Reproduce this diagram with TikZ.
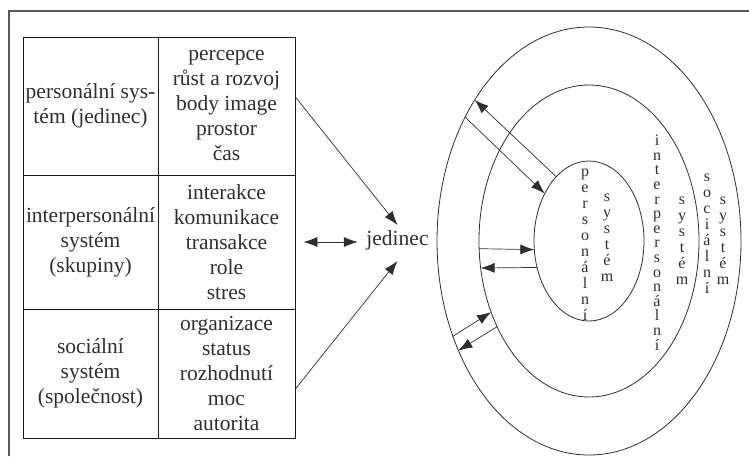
\documentclass[tikz,border=0pt]{standalone}
\usepackage{fontspec}
\setmainfont{Liberation Serif}
\usetikzlibrary{arrows.meta,shapes.geometric}
\definecolor{ink}{gray}{0.18}
\definecolor{framec}{gray}{0.35}
\begin{document}
\begin{tikzpicture}[x=1pt,y=-1pt,
  every node/.style={text=ink},
  cell/.style={draw=black!90, line width=0.8pt, inner sep=0pt, align=center,
    font=\fontsize{21.5}{25}\selectfont},
  ring/.style={draw=ink, line width=0.8pt, ellipse, inner sep=0pt, outer sep=0pt},
  vert/.style={align=center, inner sep=0pt, font=\fontsize{16}{#1}\selectfont},
  vert/.default=16,
  arr/.style={draw=ink, line width=0.7pt, -{Latex[length=14pt,width=10pt]}},
  arrtwo/.style={draw=ink, line width=0.7pt, {Latex[length=14pt,width=10pt]}-{Latex[length=14pt,width=10pt]}},
  framepath/.style={draw=framec, line width=2.5pt}
]
\useasboundingbox (0,0) rectangle (749,456);

% frame of the page
\draw[framepath] (9,456) -- (9,11) -- (749,11);

% table
\node[cell, minimum width=135pt, minimum height=138pt] (l1) at (90.5,106) {personální sys-\\tém (jedinec)};
\node[cell, minimum width=137pt, minimum height=138pt] (r1) at (226.5,106) {percepce\\růst a rozvoj\\body image\\prostor\\čas};
\node[cell, minimum width=135pt, minimum height=134pt] (l2) at (90.5,242) {interpersonální\\systém\\(skupiny)};
\node[cell, minimum width=137pt, minimum height=134pt] (r2) at (226.5,242) {interakce\\komunikace\\transakce\\role\\stres};
\node[cell, minimum width=135pt, minimum height=129pt] (l3) at (90.5,373.5) {sociální\\systém\\(společnost)};
\node[cell, minimum width=137pt, minimum height=129pt] (r3) at (226.5,373.5) {organizace\\status\\rozhodnutí\\moc\\autorita};

% jedinec
\node[font=\fontsize{21.5}{25}\selectfont, inner xsep=4pt, inner ysep=5pt] (jed) at (397.5,240) {jedinec};

\draw[arr] ([yshift=9pt]r1.east) -- (jed.north);
\draw[arr] ([yshift=-15.5pt]r3.east) -- ([yshift=-6pt]jed.south);
\draw[arrtwo, shorten <=8pt, shorten >=4.5pt] (r2.east) -- (r2.east -| jed.west);

% ellipses
\node[ring, minimum width=304pt, minimum height=428pt] (outer) at (589,241) {};
\node[ring, minimum width=220pt, minimum height=312pt] (middle) at (589,241) {};
\node[ring, minimum width=110pt, minimum height=160pt] (inner) at (589,241) {};

% vertical labels
\node[vert] (t1) at (585,245) {p\\e\\r\\s\\o\\n\\á\\l\\n\\í};
\node[vert] (t2) at (607,238) {s\\y\\s\\t\\é\\m};
\node[vert=14.6] (t3) at (657,242.5) {i\\n\\t\\e\\r\\p\\e\\r\\s\\o\\n\\á\\l\\n\\í};
\node[vert] (t4) at (682,241) {s\\y\\s\\t\\é\\m};
\node[vert] (t5) at (707,233.5) {s\\o\\c\\i\\á\\l\\n\\í};
\node[vert] (t6) at (723,241) {s\\y\\s\\t\\é\\m};

% arrows between the systems
\draw[arr] (inner.117.3) -- (outer.129.8);
\draw[arr] (outer.135.2) -- (inner.133.2);
\draw[arr] (middle.184.7) -- (inner.189.35);
\draw[arr] (inner.207.5) -- (middle.194);
\draw[arr] (outer.215.2) -- (middle.216.7);
\draw[arr] (middle.223.7) -- (outer.220.7);
\end{tikzpicture}
\end{document}
